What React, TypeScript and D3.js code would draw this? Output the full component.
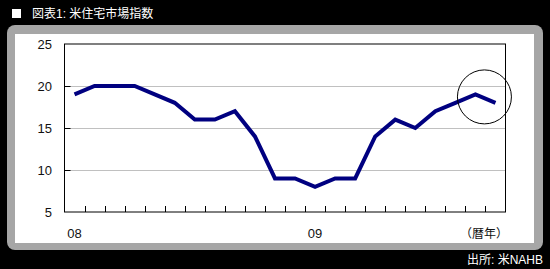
import React from "react";
import * as d3 from "d3";

const months = ["08/01","08/02","08/03","08/04","08/05","08/06","08/07","08/08","08/09","08/10","08/11","08/12","09/01","09/02","09/03","09/04","09/05","09/06","09/07","09/08","09/09","09/10"];
const hmi = [19,20,20,20,19,18,16,16,17,14,9,9,8,9,9,14,16,15,17,18,19,18];
const yTicks = [5,10,15,20,25];
const xLabels = [{ idx: 0, text: "08" }, { idx: 12, text: "09" }];
const title = "図表1: 米住宅市場指数";
const source = "出所: 米NAHB";
const unitLabel = "（暦年）";

const W = 550, H = 269;
const plot = { left: 64.5, right: 505.5, top: 44, bottom: 212 };
const font = "'Liberation Sans', 'Noto Sans CJK JP', sans-serif";

export default function App() {
  const x = d3.scaleBand<string>().domain(months).range([plot.left, plot.right]).paddingInner(0).paddingOuter(0);
  const y = d3.scaleLinear().domain([5, 25]).range([plot.bottom, plot.top]);
  const cx = (m: string) => (x(m) as number) + x.bandwidth() / 2;
  const line = d3.line<number>().x((_, i) => cx(months[i])).y((d) => y(d));
  const lastIdx = months.length - 2;
  const circleX = cx(months[lastIdx]) + 9;
  const circleY = y(hmi[lastIdx]) + 2.5;

  return (
    <div style={{ position: "fixed", left: 0, top: 0 }}>
      <svg width={W} height={H} style={{ display: "block" }}>
        <rect x={0} y={0} width={W} height={H} fill="#000" />
        <rect x={12} y={9} width={9} height={9} fill="#fff" />
        <text x={32} y={18} fill="#fff" fontSize={12} fontFamily={font}>{title}</text>
        <rect x={7} y={25} width={536} height={225} rx={8} ry={8} fill="#a6a6a6" />
        <rect x={15} y={34} width={519} height={209} fill="#fff" />
        {yTicks.filter((t) => t !== 5 && t !== 25).map((t) => (
          <line key={"g" + t} x1={plot.left} x2={plot.right} y1={Math.round(y(t)) + 0.5} y2={Math.round(y(t)) + 0.5} stroke="#c0c0c0" strokeWidth={1} />
        ))}
        {yTicks.filter((t) => t !== 5 && t !== 25).map((t) => (
          <line key={"t" + t} x1={plot.left} x2={plot.left + 6} y1={Math.round(y(t)) + 0.5} y2={Math.round(y(t)) + 0.5} stroke="#000" strokeWidth={1} />
        ))}
        {months.slice(1).map((m) => {
          const xx = Math.round(x(m) as number) + 0.5;
          return <line key={"xt" + m} x1={xx} x2={xx} y1={plot.bottom} y2={plot.bottom - 6} stroke="#000" strokeWidth={1} />;
        })}
        <rect x={plot.left} y={plot.top} width={plot.right - plot.left} height={plot.bottom - plot.top} fill="none" stroke="#000" strokeWidth={1} />
        {yTicks.map((t) => (
          <text key={"yl" + t} x={52} y={y(t)} dy="0.35em" textAnchor="end" fontSize={13} fontFamily={font} fill="#111">{t}</text>
        ))}
        {xLabels.map((l) => (
          <text key={"xl" + l.idx} x={cx(months[l.idx])} y={238} textAnchor="middle" fontSize={13} fontFamily={font} fill="#111">{l.text}</text>
        ))}
        <text x={484} y={238} textAnchor="middle" fontSize={12} fontFamily={font} fill="#111">{unitLabel}</text>
        <path d={line(hmi) || ""} fill="none" stroke="#000080" strokeWidth={4} strokeLinejoin="miter" />
        <circle cx={circleX} cy={circleY} r={27} fill="none" stroke="#000" strokeWidth={1} />
        <text x={543} y={264} textAnchor="end" fill="#fff" fontSize={12} fontFamily={font}>{source}</text>
      </svg>
    </div>
  );
}
